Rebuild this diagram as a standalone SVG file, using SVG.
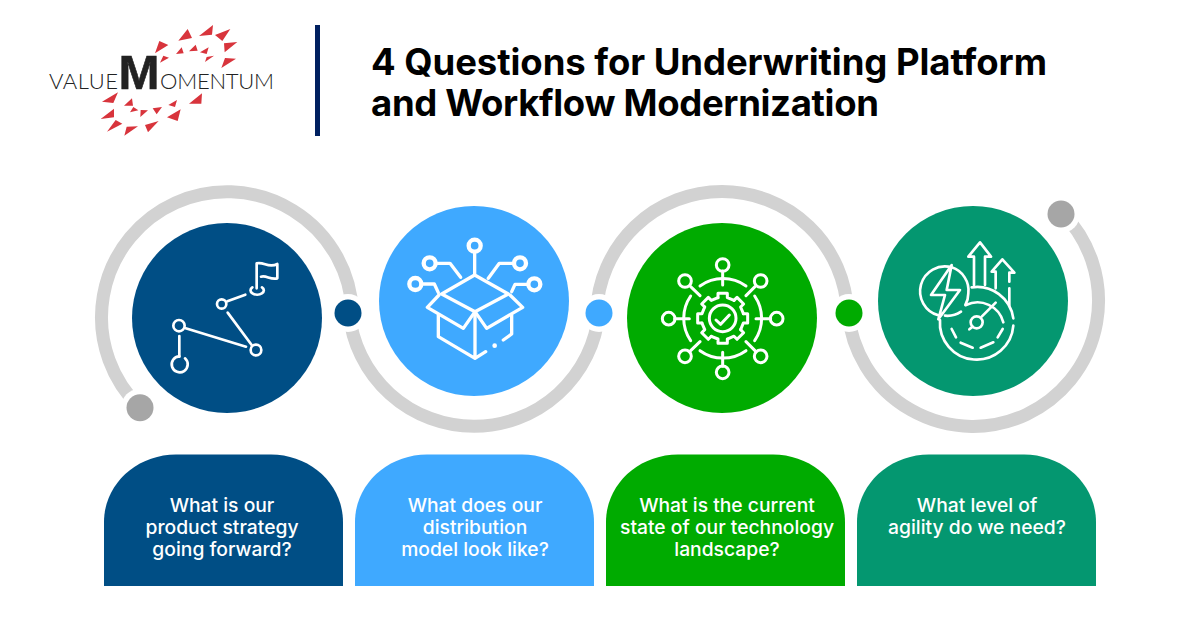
<svg xmlns="http://www.w3.org/2000/svg" width="1200" height="630" viewBox="0 0 1200 630">
<style>
text{font-family:"Inter","Noto Sans","Liberation Sans",sans-serif}
.title{font-size:36.500px;font-weight:700;fill:#000}
.q{font-size:19.300px;font-weight:500;fill:#fff;text-anchor:middle}
.ring{fill:none;stroke:#d2d2d2;stroke-width:13}
.halo{fill:#fff}
.ic{fill:none;stroke:#fff;stroke-width:8;stroke-linecap:round;stroke-linejoin:round}
.ic2{stroke-width:10}
.ic3{stroke-width:9}
.ic2 circle{stroke-width:13}
.ic2 circle.pt{fill:#fff;stroke:none}
.lg{font-family:"Lato","Liberation Sans",sans-serif;font-size:22px;font-weight:300;fill:#222}
.tri{fill:#d8343c}
</style>
<rect width="1200" height="630" fill="#fff"/>
<g id="logo">
<g transform="translate(30,10) scale(.33333)" class="tri">
<path d="M445,92L473,57L486,84ZM507,78L549,45L546,74ZM555,75L601,57L577,93ZM584,127L622,96L582,100ZM574,174L618,146L585,144ZM375,130L415,105L388,93ZM390,158L417,143L400,137ZM438,132L461,130L455,112ZM477,124L503,122L497,104ZM510,127L536,112L530,132ZM525,156L552,137L530,141ZM216,275L264,247L250,279ZM282,287L306,265L309,287ZM212,327L252,296L252,322ZM300,307L325,301L310,291ZM331,321L354,301L332,300ZM368,295L396,291L380,313ZM415,285L441,270L435,291ZM411,322L452,298L443,333ZM477,281L516,250L514,281ZM231,365L277,341L257,330ZM283,377L324,349L290,350ZM345,345L386,333L354,367Z"/>
</g>
<text class="lg" x="49" y="89" textLength="69">VALUE</text>
<text x="118.500" y="89" textLength="41" lengthAdjust="spacingAndGlyphs" style="font-family:'Liberation Sans',sans-serif;font-size:48px;font-weight:700;fill:#222;stroke:#222;stroke-width:.6">M</text>
<text class="lg" x="160" y="89" textLength="114">OMENTUM</text>
</g>
<rect id="divider" x="315" y="25" width="5" height="111" fill="#002060"/>
<g id="title">
<text class="title" x="371" y="75" textLength="676">4 Questions for Underwriting Platform</text>
<text class="title" x="371" y="116" textLength="508">and Workflow Modernization</text>
</g>
<g id="connectors">
<path class="ring" d="M140,407.700A125.500,125.500 0 1 1 352.400,312"/>
<path class="ring" d="M349.100,313A125.500,125.500 0 0 0 598.900,313"/>
<path class="ring" d="M596.600,312A125.500,125.500 0 0 1 847.400,312"/>
<path class="ring" d="M848.100,313A125.500,125.500 0 1 0 1062.300,212.700"/>
<circle class="halo" cx="140" cy="407.700" r="19"/><circle cx="140" cy="407.700" r="13.500" fill="#a6a6a6"/>
<circle class="halo" cx="348" cy="313" r="19"/><circle cx="348" cy="313" r="13.500" fill="#004e85"/>
<circle class="halo" cx="599" cy="313" r="19"/><circle cx="599" cy="313" r="13.500" fill="#3fa9ff"/>
<circle class="halo" cx="849" cy="313" r="19"/><circle cx="849" cy="313" r="13.500" fill="#00ab00"/>
<circle class="halo" cx="1061" cy="214" r="19"/><circle cx="1061" cy="214" r="13.500" fill="#a6a6a6"/>
</g>
<g id="node-1">
<circle cx="227" cy="318" r="95" fill="#004e85"/>
<g class="ic" transform="translate(90,180) scale(.33333)">
<path d="M500,325V250C522,244 535,266 562,252V295C540,300 530,285 513,290"/>
<path d="M487,322A20,13 0 1 0 516,322"/>
<circle cx="395" cy="372" r="14"/><path d="M412,364L466,344M413,398L485,495"/>
<circle cx="498" cy="510" r="16"/><path d="M287,445L468,500"/>
<circle cx="267" cy="437" r="17"/><path d="M268,468V530"/>
<path d="M285,535A24,24 0 1 1 268,529"/>
</g>
<path d="M104,586V522C104,484 137,454.500 176,454.500H271C310,454.500 343,484 343,522V586Z" fill="#004e85"/>
<text class="q" x="222" y="511.500">What is our</text>
<text class="q" x="222" y="533.500">product strategy</text>
<text class="q" x="222" y="555.500">going forward?</text>
</g>
<g id="node-2">
<circle cx="474" cy="301" r="95" fill="#3fa9ff"/>
<g class="ic ic2" transform="translate(340,180) scale(.33333)">
<circle cx="404" cy="197" r="18"/><path d="M404,217V280"/>
<path d="M404,285L305,342L405,395L505,342Z"/>
<path d="M297,345L262,382L370,445L405,395L440,445L548,382L510,345"/>
<path d="M295,405V470L405,535L437,515M405,395V535M515,405V462L490,480"/>
<circle class="pt" cx="464" cy="497" r="7"/>
<circle cx="269" cy="250" r="18"/><path d="M290,250H330L362,292"/>
<circle cx="226" cy="312" r="18"/><path d="M250,312H283L295,338"/>
<circle cx="540" cy="250" r="18"/><path d="M518,250H478L445,295"/>
<circle cx="583" cy="313" r="18"/><path d="M560,313H525L515,335"/>
</g>
<path d="M355,586V522C355,484 388,454.500 427,454.500H522C561,454.500 594,484 594,522V586Z" fill="#3fa9ff"/>
<text class="q" x="475" y="511.500">What does our</text>
<text class="q" x="475" y="533.500">distribution</text>
<text class="q" x="475" y="555.500">model look like?</text>
</g>
<g id="node-3">
<circle cx="722" cy="318" r="95" fill="#00ab00"/>
<g class="ic ic3" transform="translate(590,180) scale(.33333)">
<circle cx="398" cy="255" r="19"/><circle cx="398" cy="577" r="19"/><circle cx="236" cy="416" r="19"/><circle cx="560" cy="416" r="19"/>
<circle cx="285" cy="303" r="19"/><circle cx="512" cy="303" r="19"/><circle cx="285" cy="529" r="19"/><circle cx="512" cy="529" r="19"/>
<path d="M398,273V315M398,517V559M254,416H298M498,416H542M302,320L330,347M495,320L468,347M302,512L330,485M495,512L468,485"/>
<path d="M330,318A118,118 0 0 1 468,318M494,348A118,118 0 0 1 494,482M468,512A118,118 0 0 1 330,512M302,482A118,118 0 0 1 302,348"/>
<g transform="translate(398,415)">
<path d="M-14,-62V-75H14V-62L34,-54"/>
<path d="M-14,-62V-75H14V-62L34,-54" transform="rotate(45)"/>
<path d="M-14,-62V-75H14V-62L34,-54" transform="rotate(90)"/>
<path d="M-14,-62V-75H14V-62L34,-54" transform="rotate(135)"/>
<path d="M-14,-62V-75H14V-62L34,-54" transform="rotate(180)"/>
<path d="M-14,-62V-75H14V-62L34,-54" transform="rotate(225)"/>
<path d="M-14,-62V-75H14V-62L34,-54" transform="rotate(270)"/>
<path d="M-14,-62V-75H14V-62L34,-54" transform="rotate(315)"/>
<circle r="40"/>
<path d="M-20,5L-6,18L20,-10"/>
</g>
</g>
<path d="M606,586V522C606,484 639,454.500 678,454.500H773C812,454.500 845,484 845,522V586Z" fill="#00ab00"/>
<text class="q" x="727" y="511.500">What is the current</text>
<text class="q" x="727" y="533.500">state of our technology</text>
<text class="q" x="727" y="555.500">landscape?</text>
</g>
<g id="node-4">
<circle cx="973" cy="301" r="95" fill="#049770"/>
<g class="ic" transform="translate(830,180) scale(.33333)">
<path d="M330,420A110,110 0 1 0 550,437M425,322A110,110 0 0 1 550,415"/>
<path d="M408,375A80,80 0 0 1 520,427"/>
<path d="M365,447L378,472M392,488L428,503M452,503L490,487M503,472L518,447"/>
<circle cx="440" cy="427" r="18"/><path d="M455,410L497,368M418,448L428,440"/>
<path d="M415,340A73,73 0 0 0 365,262A73,73 0 0 0 325,406M393,395A73,73 0 0 1 345,407M415,340A73,73 0 0 1 406,375"/>
<path d="M365,255L303,345H345L325,418L390,330H350Z"/>
<path d="M432,315V230H415L450,187L483,230H465V315M497,325V275H485L517,238L553,278H538V305M538,325V375"/>
</g>
<path d="M857,586V522C857,484 890,454.500 929,454.500H1024C1063,454.500 1096,484 1096,522V586Z" fill="#049770"/>
<text class="q" x="977" y="511.500">What level of</text>
<text class="q" x="977" y="533.500">agility do we need?</text>
</g>
</svg>
